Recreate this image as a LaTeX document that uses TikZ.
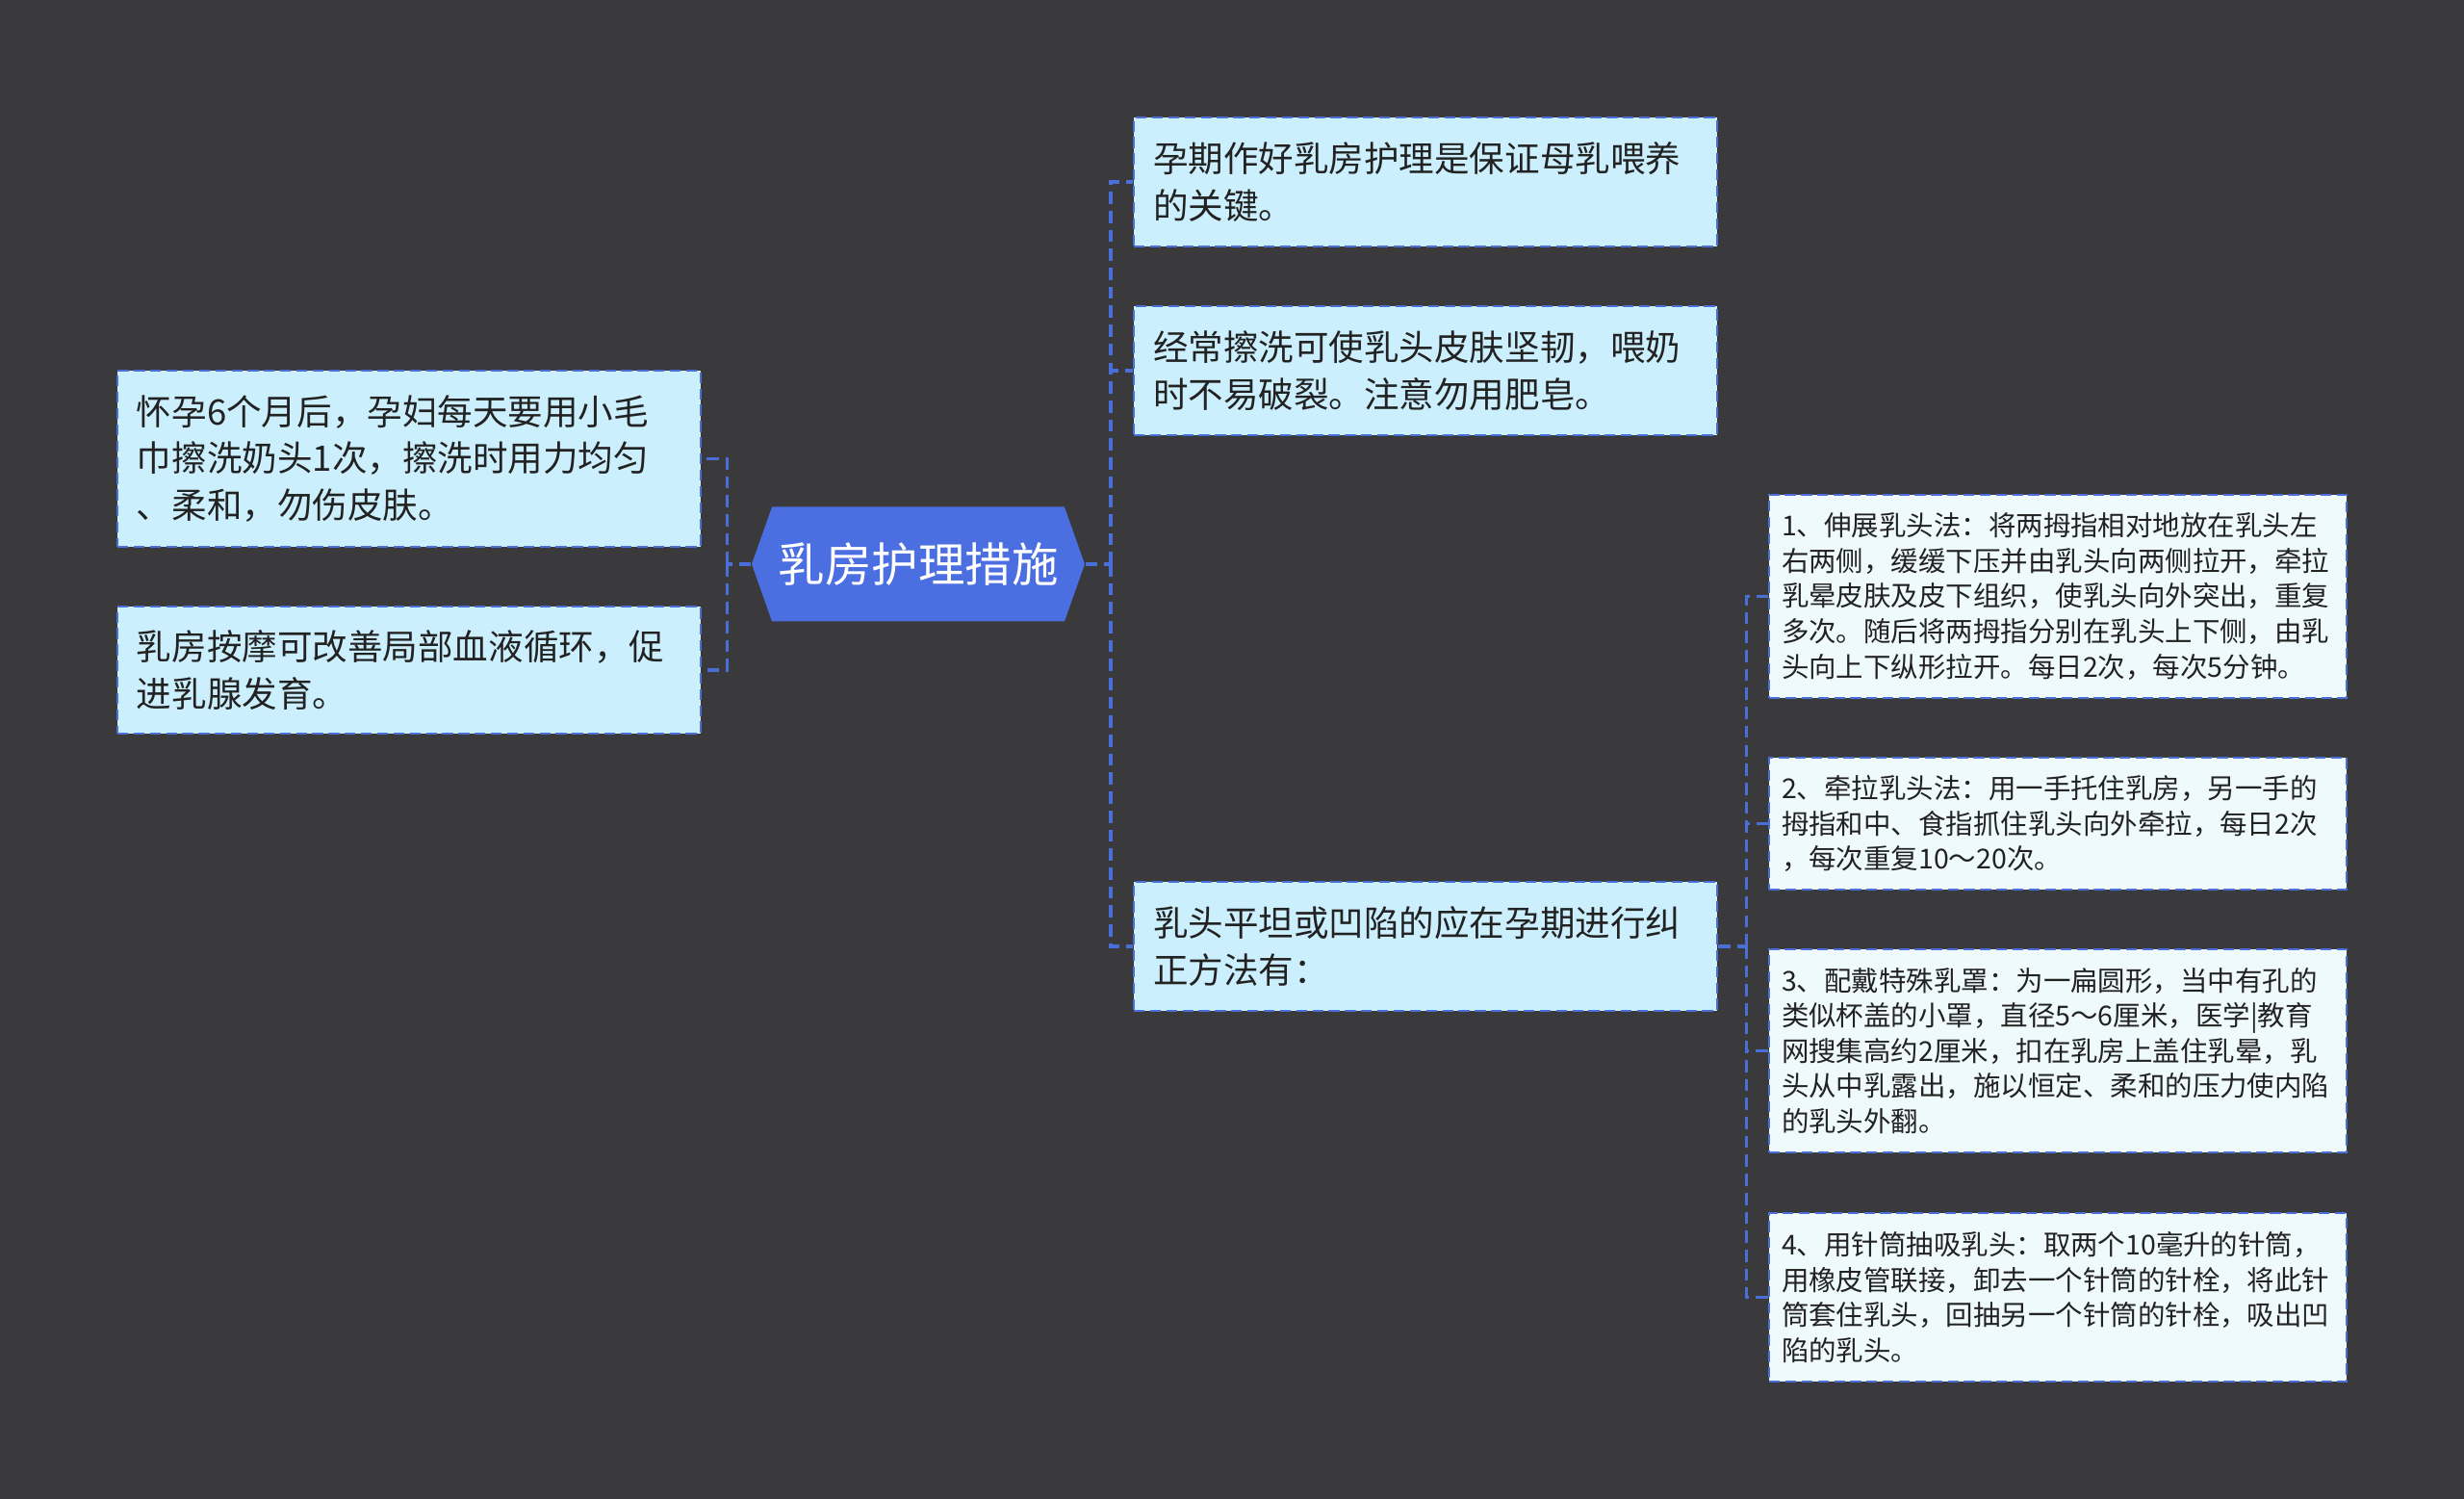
\documentclass[tikz,border=0pt]{standalone}
\usepackage{fontspec}
\newfontfamily\cjk{Noto Sans CJK SC}
\usetikzlibrary{shapes.symbols}
\definecolor{bgdark}{HTML}{3A393B}
\definecolor{linkblue}{HTML}{4A6FD8}
\definecolor{rootblue}{HTML}{4B6FE0}
\definecolor{mainfill}{HTML}{CCEFFD}
\definecolor{subfill}{HTML}{EFFAFC}
\definecolor{inktext}{HTML}{222222}
\begin{document}
\begin{tikzpicture}[
    link/.style={linkblue, line width=1pt, dash pattern=on 3.6pt off 2pt},
    box/.style={draw=linkblue, line width=0.8pt, dash pattern=on 3.2pt off 1.6pt, text=inktext, align=left},
    mainbox/.style={box, fill=mainfill, inner xsep=0.2cm, text width=5.66cm, minimum height=#1, font=\cjk\fontsize{10.4pt}{13.9pt}\selectfont},
    subbox/.style={box, fill=subfill, inner xsep=0.13cm, text width=5.74cm, minimum height=#1, font=\cjk\fontsize{8.1pt}{10.4pt}\selectfont},
    rootnode/.style={signal, signal to=west and east, signal pointer angle=141, fill=rootblue, text=white, inner sep=0pt, minimum width=3.46cm, minimum height=1.19cm, font=\cjk\fontsize{13.8pt}{16pt}\selectfont}
  ]
  % tlo
  \fill[bgdark] (0,0) rectangle (25.6,-15.57);
  % temat glowny
  \node[rootnode] (root) at (9.54,-5.86) {乳房护理措施};
  % lewa galaz
  \node[mainbox=1.83cm] (L1) at (4.25,-4.765) {怀孕6个月后，孕妇每天要用小毛\\巾擦洗奶头1次，擦洗时用力均匀\\、柔和，勿伤皮肤。};
  \node[mainbox=1.32cm] (L2) at (4.25,-6.96) {乳房按摩可改善局部血液循环，促\\进乳腺发育。};
  % prawa galaz
  \node[mainbox=1.34cm] (R1) at (14.81,-1.89) {孕期作好乳房护理是保证母乳喂养\\的关键。};
  \node[mainbox=1.34cm] (R2) at (14.81,-3.85) {经常擦洗可使乳头皮肤坚韧，喂奶\\时不易破裂。注意勿用肥皂。};
  \node[mainbox=1.34cm] (R3) at (14.81,-9.83) {乳头平坦或凹陷的应在孕期进行纠\\正方法有：};
  % metody korekcji
  \node[subbox=2.11cm] (S1) at (21.38,-6.195) {1、伸展乳头法：将两拇指相对地放在乳头左\\右两侧，缓缓下压并由乳头向两侧拉开，牵拉\\乳晕皮肤及皮下组织，使乳头向外突出，重复\\多次。随后将两拇指分别在乳头上下侧，由乳\\头向上下纵形拉开。每日2次，每次5分钟。};
  \node[subbox=1.37cm] (S2) at (21.38,-8.555) {2、牵拉乳头法：用一手托住乳房，另一手的\\拇指和中、食指抓住乳头向外牵拉，每日2次\\，每次重复10～20次。};
  \node[subbox=2.11cm] (S3) at (21.38,-10.915) {3、配戴特殊乳罩：为一扁圆形，当中有孔的\\类似杯盖的小罩，直径5～6厘米，医学|教育\\网搜集高约2厘米，扣在乳房上盖住乳晕，乳\\头从中乳露出，施以恒定、柔和的压力使内陷\\的乳头外翻。};
  \node[subbox=1.75cm] (S4) at (21.38,-13.475) {4、用针筒抽吸乳头：取两个10毫升的针筒，\\用橡皮管联接，卸去一个针筒的针栓，将此针\\筒套住乳头，回抽另一个针筒的针栓，吸出凹\\陷的乳头。};
  % polaczenia
  \coordinate (lj) at ([xshift=-0.25cm]root.west);
  \coordinate (rj) at ([xshift=0.26cm]root.east);
  \coordinate (sj) at ([xshift=0.29cm]R3.east);
  \draw[link] (root.west) -- (lj);
  \draw[link] (lj) |- (L1.east);
  \draw[link] (lj) |- (L2.east);
  \draw[link] (root.east) -- (rj);
  \draw[link] (rj) |- (R1.west);
  \draw[link] (rj) |- (R2.west);
  \draw[link] (rj) |- (R3.west);
  \draw[link] (R3.east) -- (sj);
  \foreach \s in {S1,S2,S3,S4}
    \draw[link] (sj) |- (\s.west);
\end{tikzpicture}
\end{document}
